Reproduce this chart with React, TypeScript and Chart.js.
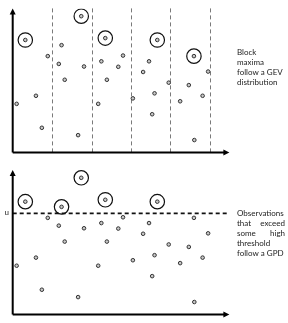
import React, { useEffect, useRef } from "react";
import { Chart, registerables } from "chart.js";
Chart.register(...registerables);

// observation positions (block units) and values
const obsX = [0.10, 0.32, 0.59, 0.74, 0.89, 1.17, 1.24, 1.32, 1.66, 1.74, 1.81, 2.17, 2.25, 2.35, 2.39, 2.68, 2.80, 3.05, 3.31, 3.46, 3.54, 3.60, 3.67, 3.96, 4.25, 4.47, 4.60, 4.61, 4.82, 4.96];
const obsY = [3.38, 7.81, 3.94, 1.72, 6.69, 6.15, 7.45, 5.05, 1.21, 9.46, 5.97, 3.38, 6.33, 7.94, 5.05, 5.95, 6.73, 3.76, 5.59, 6.33, 2.66, 4.11, 7.81, 4.85, 3.56, 4.68, 6.69, 0.87, 3.94, 5.62];
const blockEdges = [1, 2, 3, 4, 5];
const blockCount = 5;
const threshold = 7.0;
const thresholdLabel = "u";
const topText = ["Block", "maxima", "follow a GEV", "distribution"];
const bottomText = ["Observations", "that exceed", "some high", "threshold", "follow a GPD"];

type Pt = { x: number; y: number };

function blockMaxima(pts: Pt[]): Pt[] {
  const out: Pt[] = [];
  for (let b = 0; b < blockCount; b++) {
    const inBlock = pts.filter((p) => p.x >= b && p.x < b + 1);
    if (!inBlock.length) continue;
    out.push(inBlock.reduce((a, c) => (c.y > a.y ? c : a)));
  }
  return out;
}

const FONT = "8px Lato, 'DejaVu Sans', sans-serif";

function makeDecor(mode: "top" | "bottom") {
  return {
    id: "decor-" + mode,
    beforeDatasetsDraw(chart: any) {
      const { ctx, chartArea, scales } = chart;
      const { left, right, top, bottom } = chartArea;
      ctx.save();
      if (mode === "top") {
        ctx.strokeStyle = "#7a7a7a";
        ctx.lineWidth = 1;
        ctx.setLineDash([4, 3]);
        blockEdges.forEach((e) => {
          const px = Math.round(scales.x.getPixelForValue(e)) + 0.5;
          ctx.beginPath();
          ctx.moveTo(px, top);
          ctx.lineTo(px, bottom);
          ctx.stroke();
        });
      } else {
        const py = scales.y.getPixelForValue(threshold);
        ctx.strokeStyle = "#111";
        ctx.lineWidth = 1.8;
        ctx.setLineDash([4, 3]);
        ctx.beginPath();
        ctx.moveTo(left, py);
        ctx.lineTo(right - 1, py);
        ctx.stroke();
        ctx.setLineDash([]);
        ctx.fillStyle = "#222";
        ctx.font = FONT;
        ctx.textAlign = "center";
        ctx.textBaseline = "middle";
        ctx.fillText(thresholdLabel, left - 6, py - 1);
      }
      ctx.restore();
    },
    afterDatasetsDraw(chart: any) {
      const { ctx, chartArea } = chart;
      const { left, right, top, bottom } = chartArea;
      ctx.save();
      ctx.setLineDash([]);
      ctx.strokeStyle = "#000";
      ctx.fillStyle = "#000";
      ctx.lineWidth = 2;
      ctx.beginPath();
      ctx.moveTo(left, bottom);
      ctx.lineTo(left, top + 4);
      ctx.moveTo(left, bottom);
      ctx.lineTo(right - 4, bottom);
      ctx.stroke();
      // arrowheads
      ctx.beginPath();
      ctx.moveTo(left, top);
      ctx.lineTo(left - 3, top + 6);
      ctx.lineTo(left + 3, top + 6);
      ctx.closePath();
      ctx.fill();
      ctx.beginPath();
      ctx.moveTo(right, bottom);
      ctx.lineTo(right - 6, bottom - 3);
      ctx.lineTo(right - 6, bottom + 3);
      ctx.closePath();
      ctx.fill();
      // text
      ctx.font = FONT;
      ctx.fillStyle = "#222";
      ctx.textBaseline = "middle";
      const x0 = 237;
      if (mode === "top") {
        ctx.textAlign = "left";
        topText.forEach((t, i) => ctx.fillText(t, x0, 52 + i * 10));
      } else {
        const x1 = 285;
        const y0 = 213 - 161;
        bottomText.forEach((t, i) => {
          const y = y0 + i * 10;
          const words = t.split(" ");
          if ((i === 1 || i === 2) && words.length === 2) {
            ctx.textAlign = "left";
            ctx.fillText(words[0], x0, y);
            ctx.textAlign = "right";
            ctx.fillText(words[1], x1, y);
          } else {
            ctx.textAlign = "left";
            ctx.fillText(t, x0, y);
          }
        });
      }
      ctx.restore();
    },
  };
}

function makeChart(canvas: HTMLCanvasElement, mode: "top" | "bottom") {
  const pts: Pt[] = obsX.map((x, i) => ({ x, y: obsY[i] }));
  const circled = mode === "top" ? blockMaxima(pts) : pts.filter((p) => p.y > threshold);
  const padding =
    mode === "top"
      ? { left: 12.7, right: 58.6, top: 8, bottom: 4 }
      : { left: 12.7, right: 58.6, top: 9, bottom: 4.5 };
  return new Chart(canvas, {
    type: "scatter",
    data: {
      datasets: [
        {
          data: pts,
          pointRadius: 1.8,
          pointBorderWidth: 1,
          borderColor: "#333",
          backgroundColor: "#c8c8c8",
        },
        {
          data: circled,
          pointRadius: 7.2,
          pointBorderWidth: 1.2,
          borderColor: "#111",
          backgroundColor: "rgba(0,0,0,0)",
        },
      ],
    },
    options: {
      animation: false,
      responsive: false,
      events: [],
      layout: { padding },
      plugins: { legend: { display: false }, tooltip: { enabled: false } },
      scales: {
        x: { type: "linear", min: 0, max: 5.5, display: false },
        y: { type: "linear", min: 0, max: 10, display: false },
      },
    },
    plugins: [makeDecor(mode)],
  } as any);
}

export default function App() {
  const topRef = useRef<HTMLCanvasElement>(null);
  const botRef = useRef<HTMLCanvasElement>(null);
  useEffect(() => {
    const a = makeChart(topRef.current!, "top");
    const b = makeChart(botRef.current!, "bottom");
    return () => {
      a.destroy();
      b.destroy();
    };
  }, []);
  return (
    <div style={{ position: "absolute", left: 0, top: 0, width: 288, height: 323, background: "#fff" }}>
      <canvas ref={topRef} width={288} height={161} style={{ display: "block", width: 288, height: 161 }} />
      <canvas ref={botRef} width={288} height={162} style={{ display: "block", width: 288, height: 162 }} />
    </div>
  );
}
